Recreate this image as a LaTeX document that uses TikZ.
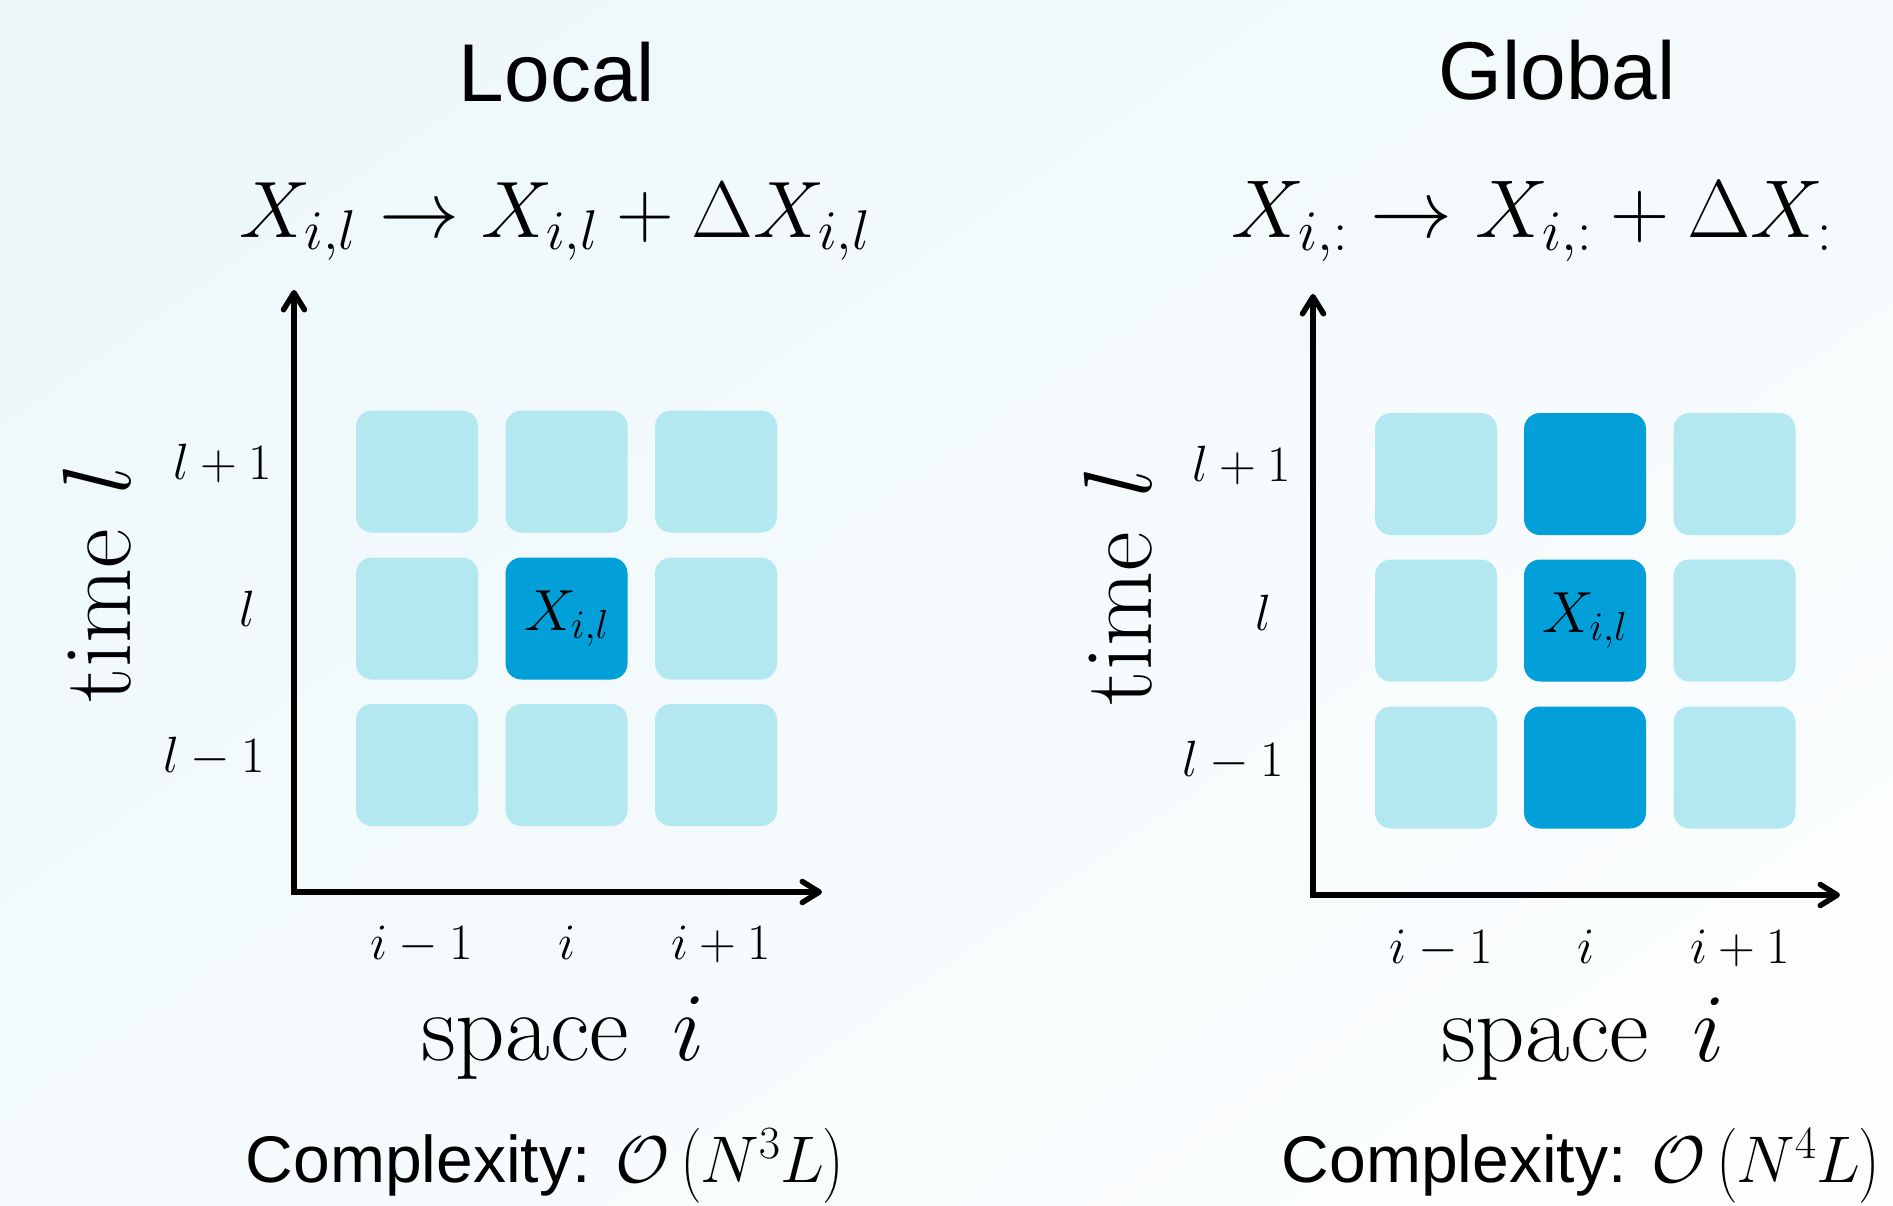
\RequirePackage{fix-cm}
\documentclass[tikz,border=0pt]{standalone}
\usepackage{exscale}
\usepackage{fontspec}
\newfontfamily\sansf{Liberation Sans}
\usetikzlibrary{arrows.meta}
\definecolor{bgA}{HTML}{EEF8FB}
\definecolor{bgB}{HTML}{FBFDFE}
\definecolor{cellL}{HTML}{B3E8F0}
\definecolor{cellD}{HTML}{039FD9}
\newcommand\fsz[1]{\fontsize{#1}{#1}\selectfont}
\begin{document}
\begin{tikzpicture}[x=1pt,y=-1pt,
  title/.style={font=\sansf\fsz{82}, anchor=base, inner sep=0pt},
  formula/.style={font=\fsz{80}, anchor=base, inner sep=0pt},
  tick/.style={font=\fsz{51}, anchor=base, inner sep=0pt},
  axlabel/.style={font=\fsz{97}, anchor=base, inner sep=0pt},
  cplx/.style={font=\sansf\fsz{66}, anchor=base, inner sep=0pt},
  cell/.style={rounded corners=16pt, minimum size=122pt, inner sep=0pt, fill=cellL, font=\fsz{58}},
  hot/.style={cell, fill=cellD},
  axis/.style={line width=5.5pt, line join=miter,
    arrows={Straight Barb[length=17pt,width=21pt,round]-Straight Barb[length=17pt,width=21pt,round]}}]
\useasboundingbox (0,0) rectangle (1893,1206);
\shade[top color=bgA, bottom color=bgB, shading angle=35] (0,0) rectangle (1893,1206);

% ---------------- Local ----------------
\node[title] (Ltitle) at (557,102) {Local};
\node[formula] (Lform) at (555,238) {$X_{i,l}\to X_{i,l}+\Delta X_{i,l}$};
\coordinate (Ltop) at (294,290);
\coordinate (Lorig) at (294,892);
\coordinate (Lend) at (822,892);
\draw[axis] (Ltop) -- (Lorig) -- (Lend);
\node[cell] (L11) at (417,471.5) {};
\node[cell] (L12) at (566.5,471.5) {};
\node[cell] (L13) at (716,471.5) {};
\node[cell] (L21) at (417,618.5) {};
\node[hot]  (L22) at (566.5,618.5) {$X_{i,l}$};
\node[cell] (L23) at (716,618.5) {};
\node[cell] (L31) at (417,765) {};
\node[cell] (L32) at (566.5,765) {};
\node[cell] (L33) at (716,765) {};
\node[tick, anchor=base east] (Lrp) at (272,479) {$l+1$};
\node[tick] (Lr0) at (247,626) {$l$};
\node[tick, anchor=base east] (Lrm) at (265,772) {$l-1$};
\node[tick] (Lcm) at (422,959) {$i-1$};
\node[tick] (Lc0) at (567,959) {$i$};
\node[tick] (Lcp) at (721,959) {$i+1$};
\node[axlabel, rotate=90] (Ltime) at (130,583) {$\mathrm{time}\hspace{0.36em}l$};
\node[axlabel] (Lspace) at (563,1060) {$\mathrm{space}\hspace{0.45em}i$};
\node[cplx] (Lcx) at (545,1182) {Complexity: $\mathcal{O}\left(N^3L\right)$};

% ---------------- Global ----------------
\node[title] (Gtitle) at (1557,100) {Global};
\node[formula, font=\fsz{82}] (Gform) at (1532,238) {$X_{i,:}\to X_{i,:}+\Delta X_{:}$};
\coordinate (Gtop) at (1313,294);
\coordinate (Gorig) at (1313,895);
\coordinate (Gend) at (1840,895);
\draw[axis] (Gtop) -- (Gorig) -- (Gend);
\node[cell] (G11) at (1436,474) {};
\node[hot]  (G12) at (1585,474) {};
\node[cell] (G13) at (1734.5,474) {};
\node[cell] (G21) at (1436,620.5) {};
\node[hot]  (G22) at (1585,620.5) {$X_{i,l}$};
\node[cell] (G23) at (1734.5,620.5) {};
\node[cell] (G31) at (1436,767.5) {};
\node[hot]  (G32) at (1585,767.5) {};
\node[cell] (G33) at (1734.5,767.5) {};
\node[tick, anchor=base east] (Grp) at (1291,481.5) {$l+1$};
\node[tick] (Gr0) at (1263,630) {$l$};
\node[tick, anchor=base east] (Grm) at (1284,776) {$l-1$};
\node[tick] (Gcm) at (1441,963) {$i-1$};
\node[tick] (Gc0) at (1586,963) {$i$};
\node[tick] (Gcp) at (1740,963) {$i+1$};
\node[axlabel, rotate=90] (Gtime) at (1151,586) {$\mathrm{time}\hspace{0.36em}l$};
\node[axlabel] (Gspace) at (1583,1061) {$\mathrm{space}\hspace{0.45em}i$};
\node[cplx] (Gcx) at (1581,1182) {Complexity: $\mathcal{O}\left(N^4L\right)$};
\end{tikzpicture}
\end{document}
